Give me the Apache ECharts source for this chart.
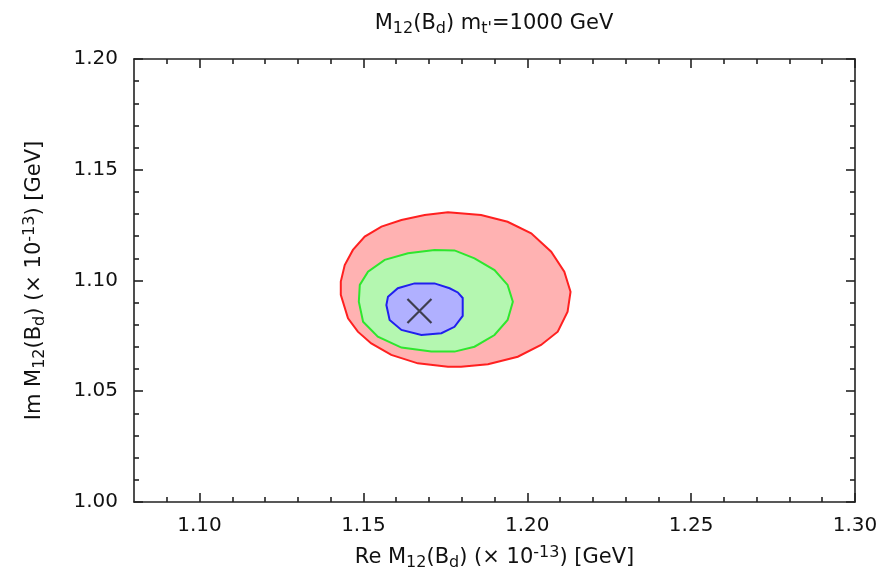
<!DOCTYPE html>
<html>
<head>
<meta charset="utf-8">
<script src="https://cdn.jsdelivr.net/npm/echarts@6/dist/echarts.min.js"></script>
<style>
  html, body { margin: 0; padding: 0; background: #fff; }
  #main { width: 883px; height: 583px; }
</style>
</head>
<body>
<div id="main"></div>
<script>
// axis ticks
const xMajorTicks = [1.10, 1.15, 1.20, 1.25, 1.30];
const xMinorTicks = [1.09, 1.11, 1.12, 1.13, 1.14, 1.16, 1.17, 1.18, 1.19, 1.21, 1.22, 1.23, 1.24, 1.26, 1.27, 1.28, 1.29];
const yMajorTicks = [1.00, 1.05, 1.10, 1.15, 1.20];
const yMinorTicks = [1.01, 1.02, 1.03, 1.04, 1.06, 1.07, 1.08, 1.09, 1.11, 1.12, 1.13, 1.14, 1.16, 1.17, 1.18, 1.19];

// contours: [Re, Im]
const redContour = [
  [1.1431, 1.0935], [1.1431, 1.0995], [1.1443, 1.1070], [1.1468, 1.1138], [1.1504, 1.1198],
  [1.1555, 1.1243], [1.1616, 1.1273], [1.1687, 1.1296], [1.1758, 1.1308], [1.1859, 1.1296],
  [1.1940, 1.1265], [1.2012, 1.1213], [1.2073, 1.1130], [1.2113, 1.1040], [1.2132, 1.0949],
  [1.2123, 1.0859], [1.2093, 1.0769], [1.2042, 1.0709], [1.1971, 1.0656], [1.1880, 1.0622],
  [1.1798, 1.0611], [1.1758, 1.0611], [1.1666, 1.0626], [1.1585, 1.0664], [1.1524, 1.0716],
  [1.1483, 1.0769], [1.1453, 1.0829]
];
const greenContour = [
  [1.1486, 1.0904], [1.1489, 1.0980], [1.1514, 1.1040], [1.1565, 1.1093], [1.1636, 1.1123],
  [1.1717, 1.1138], [1.1778, 1.1136], [1.1839, 1.1100], [1.1900, 1.1047], [1.1940, 1.0980],
  [1.1956, 1.0904], [1.1940, 1.0822], [1.1900, 1.0754], [1.1839, 1.0701], [1.1778, 1.0679],
  [1.1707, 1.0679], [1.1616, 1.0697], [1.1544, 1.0746], [1.1499, 1.0814]
];
const blueContour = [
  [1.1570, 1.0889], [1.1575, 1.0927], [1.1605, 1.0965], [1.1656, 1.0987], [1.1717, 1.0987],
  [1.1763, 1.0965], [1.1788, 1.0946], [1.1803, 1.0921], [1.1803, 1.0840], [1.1778, 1.0791],
  [1.1738, 1.0762], [1.1677, 1.0754], [1.1616, 1.0777], [1.1580, 1.0822]
];
const bestFit = [[1.1671, 1.0862]];

const FONT = '"DejaVu Sans", "Liberation Sans", sans-serif';
const rich = {
  n: { fontFamily: FONT, fontSize: 21, fontWeight: 'normal', color: '#111', lineHeight: 26, verticalAlign: 'middle' },
  sub: { fontFamily: FONT, fontSize: 16, fontWeight: 'normal', color: '#111', lineHeight: 14, verticalAlign: 'bottom' },
  sup: { fontFamily: FONT, fontSize: 16, fontWeight: 'normal', color: '#111', lineHeight: 14, verticalAlign: 'top' }
};

function xAxis(position, ticks, len, main) {
  return {
    type: 'value', position: position, min: 1.08, max: 1.30,
    name: main ? '{n|Re M}{sub|12}{n|(B}{sub|d}{n|) (× 10}{sup|-13}{n|) [GeV]}' : '',
    nameLocation: 'middle', nameGap: 43,
    nameTextStyle: { rich: rich },
    axisLine: { show: len > 6, lineStyle: { color: '#222', width: 1.6 } },
    axisTick: { show: true, inside: true, length: len, customValues: ticks, lineStyle: { color: '#222', width: 1.6 } },
    axisLabel: {
      show: !!main && position === 'bottom', customValues: ticks, margin: 14,
      fontFamily: FONT, fontSize: 20, color: '#111',
      formatter: v => v.toFixed(2)
    },
    splitLine: { show: false }
  };
}
function yAxis(position, ticks, len, main) {
  return {
    type: 'value', position: position, min: 1.00, max: 1.20,
    name: main ? '{n|Im M}{sub|12}{n|(B}{sub|d}{n|) (× 10}{sup|-13}{n|) [GeV]}' : '',
    nameLocation: 'middle', nameGap: 86,
    nameTextStyle: { rich: rich },
    axisLine: { show: len > 6, lineStyle: { color: '#222', width: 1.6 } },
    axisTick: { show: true, inside: true, length: len, customValues: ticks, lineStyle: { color: '#222', width: 1.6 } },
    axisLabel: {
      show: !!main && position === 'left', customValues: ticks, margin: 16,
      fontFamily: FONT, fontSize: 20, color: '#111',
      formatter: v => v.toFixed(2)
    },
    splitLine: { show: false }
  };
}

function contourSeries(data, fill, stroke) {
  return {
    type: 'custom', xAxisIndex: 0, yAxisIndex: 0,
    data: data, encode: { x: 0, y: 1 }, silent: true,
    renderItem: (params, api) => {
      if (params.dataIndex !== 0) return;
      const pts = data.map(p => api.coord(p));
      return {
        type: 'polygon', shape: { points: pts },
        style: { fill: fill, stroke: stroke, lineWidth: 2 }
      };
    }
  };
}

const chart = echarts.init(document.getElementById('main'));
chart.setOption({
  animation: false,
  backgroundColor: '#fff',
  title: {
    text: '{n|M}{sub|12}{n|(B}{sub|d}{n|) m}{sub|t\'}{n|=1000 GeV}',
    left: 489, top: 6, textAlign: 'center',
    textStyle: { fontWeight: 'normal', rich: rich }
  },
  grid: { left: 134, top: 59, right: 28, bottom: 81 },
  xAxis: [
    xAxis('bottom', xMajorTicks, 9, true),
    xAxis('bottom', xMinorTicks, 5, false),
    xAxis('top', xMajorTicks, 9, false),
    xAxis('top', xMinorTicks, 5, false)
  ],
  yAxis: [
    yAxis('left', yMajorTicks, 9, true),
    yAxis('left', yMinorTicks, 5, false),
    yAxis('right', yMajorTicks, 9, false),
    yAxis('right', yMinorTicks, 5, false)
  ],
  series: [
    contourSeries(redContour, '#ffb2b2', '#ff2020'),
    contourSeries(greenContour, '#b4f7b0', '#2ee62e'),
    contourSeries(blueContour, '#b0b0ff', '#2020ee'),
    {
      type: 'scatter', xAxisIndex: 0, yAxisIndex: 0, data: bestFit,
      symbol: 'path://M0,0L10,10M10,0L0,10', symbolSize: 24,
      itemStyle: { color: 'none', borderColor: '#222', borderWidth: 2.2 }
    }
  ]
});
</script>
</body>
</html>
